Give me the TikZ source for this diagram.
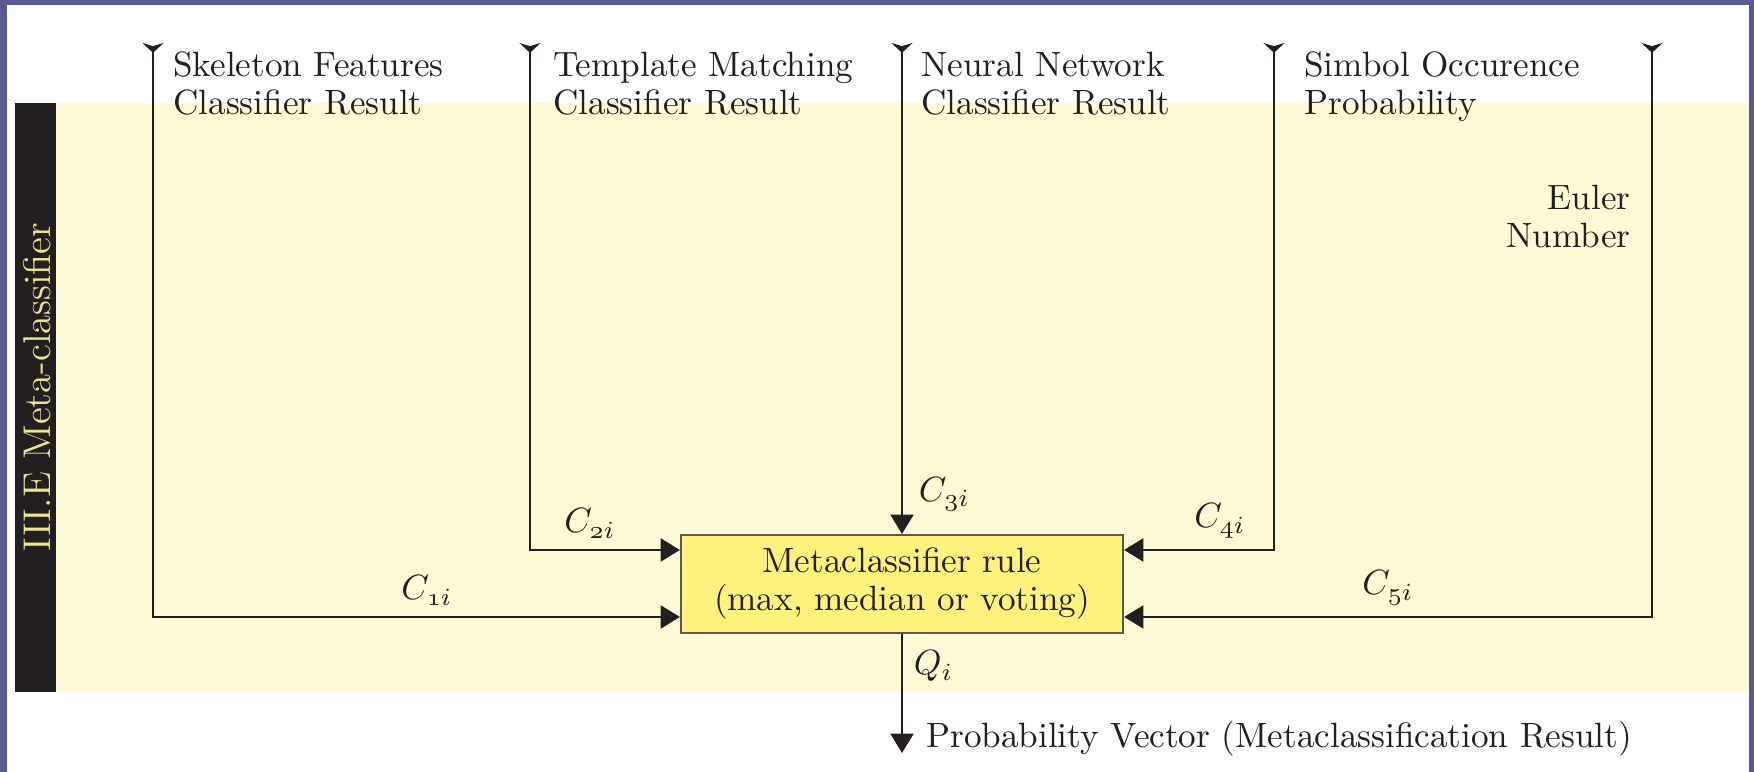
\documentclass[tikz,border=0pt]{standalone}
\usepackage{amssymb,amsmath}
\usepackage{tikz}
\usetikzlibrary{arrows.meta, calc, positioning}

\definecolor{slide}{RGB}{90,90,145}
\definecolor{band}{RGB}{255,250,214}
\definecolor{rulefill}{RGB}{255,242,125}
\definecolor{ink}{RGB}{35,31,32}
\definecolor{bartext}{RGB}{238,228,140}

\begin{document}
\begin{tikzpicture}[
    line width=0.8pt,
    arr/.style={draw=ink, -{Triangle[length=5.5pt,width=6.5pt]}},
    feed/.style={draw=ink, {Stealth[reversed,length=2.8pt,width=6pt,inset=0.9pt]}-{Triangle[length=5.5pt,width=6.5pt]}},
    lbl/.style={inner sep=0pt, align=left, text=ink, font=\fontsize{10}{10.8}\selectfont},
    cval/.style={text=ink, inner sep=3pt}
]
    % page and background
    \useasboundingbox (0,0) rectangle (17.54,7.72);
    \fill[slide] (0,0) rectangle (17.54,7.72);
    \fill[white] (0.07,0) rectangle (17.49,7.67);
    \fill[band] (0.56,0.80) rectangle (17.49,6.69);
    \fill[ink] (0.15,0.80) rectangle (0.56,6.69);
    \node[rotate=90, text=bartext, font=\fontsize{11}{13}\selectfont] (stage) at (0.37,3.85) {III.E Meta-classifier};

    % combining rule
    \node[draw=ink!75, line width=0.6pt, fill=rulefill, lbl, align=center, minimum width=4.42cm, minimum height=0.98cm] (rule) at (9.02,1.88) {Metaclassifier rule\\(max, median or voting)};

    % classifier outputs coming in from the top
    \coordinate (t1) at (1.53,7.29);
    \coordinate (t2) at (5.30,7.29);
    \coordinate (t3) at (9.02,7.29);
    \coordinate (t4) at (12.74,7.29);
    \coordinate (t5) at (16.52,7.29);

    \node[lbl, below right=0.076cm and 0.19cm of t1] (skel) {Skeleton Features\\Classifier Result};
    \node[lbl, below right=0.076cm and 0.22cm of t2] (templ) {Template Matching\\Classifier Result};
    \node[lbl, below right=0.076cm and 0.18cm of t3] (neural) {Neural Network\\Classifier Result};
    \node[lbl, below right=0.076cm and 0.29cm of t4] (occur) {Simbol Occurence\\Probability};
    \node[lbl, align=right, below left=1.41cm and 0.20cm of t5] (euler) {Euler\\Number};

    \draw[feed] (t1) |- node[cval, above, pos=0.76] {$C_{\mathnormal{1}i}$} ([yshift=-3.3mm]rule.west);
    \draw[feed] (t2) |- node[cval, above, pos=0.70] {$C_{\mathnormal{2}i}$} ([yshift=3.4mm]rule.west);
    \draw[feed] (t3) -- node[cval, right, pos=0.92, xshift=0.5mm] {$C_{\mathnormal{3}i}$} (rule.north);
    \draw[feed] (t4) |- node[cval, above, pos=0.68] {$C_{\mathnormal{4}i}$} ([yshift=3.4mm]rule.east);
    \draw[feed] (t5) |- node[cval, above, pos=0.75] {$C_{\mathnormal{5}i}$} ([yshift=-3.3mm]rule.east);

    % result
    \node[lbl, anchor=base west] (res) at (9.25,0.24) {Probability Vector (Metaclassification Result)};
    \coordinate (out) at (rule.south |- 0,0.19);
    \draw[arr] (rule.south) -- node[cval, right, pos=0.27] {$Q_i$} (out);
\end{tikzpicture}
\end{document}
